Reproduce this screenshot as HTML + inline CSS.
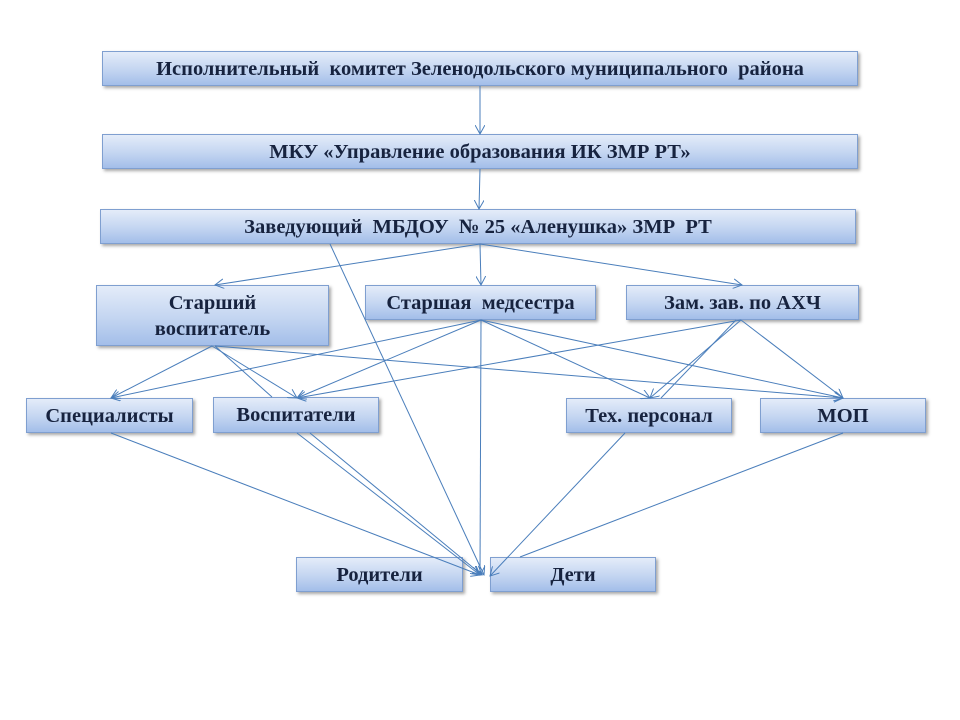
<!DOCTYPE html>
<html><head><meta charset="utf-8"><style>
body{margin:0;width:960px;height:720px;background:#fff;position:relative;overflow:hidden;font-family:"Liberation Serif",serif}
.b{position:absolute;box-sizing:border-box;border:1px solid #7f9fd0;background:linear-gradient(#e4ecf9,#c3d5f1 55%,#a3bee9);box-shadow:2px 2px 3px rgba(0,0,0,0.35);display:flex;align-items:center;justify-content:center;text-align:center;font-weight:bold;font-size:20.5px;color:#17233f;line-height:26px;white-space:nowrap}
svg{position:absolute;left:0;top:0}
</style></head><body>
<div class="b" style="left:102px;top:51px;width:756px;height:35px">Исполнительный&nbsp; комитет&nbsp;Зеленодольского муниципального&nbsp; района</div>
<div class="b" style="left:102px;top:134px;width:756px;height:35px">МКУ «Управление образования ИК ЗМР РТ»</div>
<div class="b" style="left:100px;top:209px;width:756px;height:35px">Заведующий&nbsp; МБДОУ&nbsp; №&nbsp;25 «Аленушка»&nbsp;ЗМР&nbsp; РТ</div>
<div class="b" style="left:96px;top:285px;width:233px;height:61px">Старший<br>воспитатель</div>
<div class="b" style="left:365px;top:285px;width:231px;height:35px">Старшая&nbsp; медсестра</div>
<div class="b" style="left:626px;top:285px;width:233px;height:35px">Зам. зав. по АХЧ</div>
<div class="b" style="left:26px;top:398px;width:167px;height:35px">Специалисты</div>
<div class="b" style="left:213px;top:397px;width:166px;height:36px">Воспитатели</div>
<div class="b" style="left:566px;top:398px;width:166px;height:35px">Тех. персонал</div>
<div class="b" style="left:760px;top:398px;width:166px;height:35px">МОП</div>
<div class="b" style="left:296px;top:557px;width:167px;height:35px">Родители</div>
<div class="b" style="left:490px;top:557px;width:166px;height:35px">Дети</div>
<svg width="960" height="720">
<defs><marker id="a" markerWidth="10" markerHeight="10" refX="9" refY="5" orient="auto" markerUnits="userSpaceOnUse"><path d="M0,0 L9,5 L0,10" fill="none" stroke="#4a7ebb" stroke-width="1"/></marker></defs>
<g stroke="#4a7ebb" stroke-width="1" fill="none" marker-end="url(#a)">
<line x1="480" y1="86" x2="480" y2="134"/>
<line x1="480" y1="169" x2="479" y2="209"/>
<line x1="480" y1="244" x2="215" y2="285"/>
<line x1="480" y1="244" x2="481" y2="285"/>
<line x1="480" y1="244" x2="742" y2="285"/>
<line x1="330" y1="244" x2="484" y2="575"/>
<line x1="212" y1="346" x2="111" y2="398"/>
<line x1="212" y1="346" x2="297" y2="398"/>
<line x1="215" y1="346" x2="843" y2="398"/>
<line x1="481" y1="320" x2="111" y2="398"/>
<line x1="481" y1="320" x2="297" y2="398"/>
<line x1="481" y1="320" x2="480" y2="575"/>
<line x1="481" y1="320" x2="650" y2="398"/>
<line x1="481" y1="320" x2="843" y2="398"/>
<line x1="741" y1="320" x2="297" y2="398"/>
<line x1="741" y1="320" x2="650" y2="398"/>
<line x1="741" y1="320" x2="843" y2="398"/>
<line x1="111" y1="433" x2="480" y2="575"/>
<line x1="297" y1="433" x2="480" y2="575"/>
<line x1="310" y1="433" x2="482" y2="575"/>
<line x1="625" y1="433" x2="490" y2="576"/>
</g>
<g stroke="#4a7ebb" stroke-width="1">
<line x1="215" y1="346" x2="272" y2="397"/>
<line x1="736" y1="320" x2="661" y2="398"/>
<line x1="843" y1="433" x2="520" y2="557"/>
</g>
</svg>
</body></html>
